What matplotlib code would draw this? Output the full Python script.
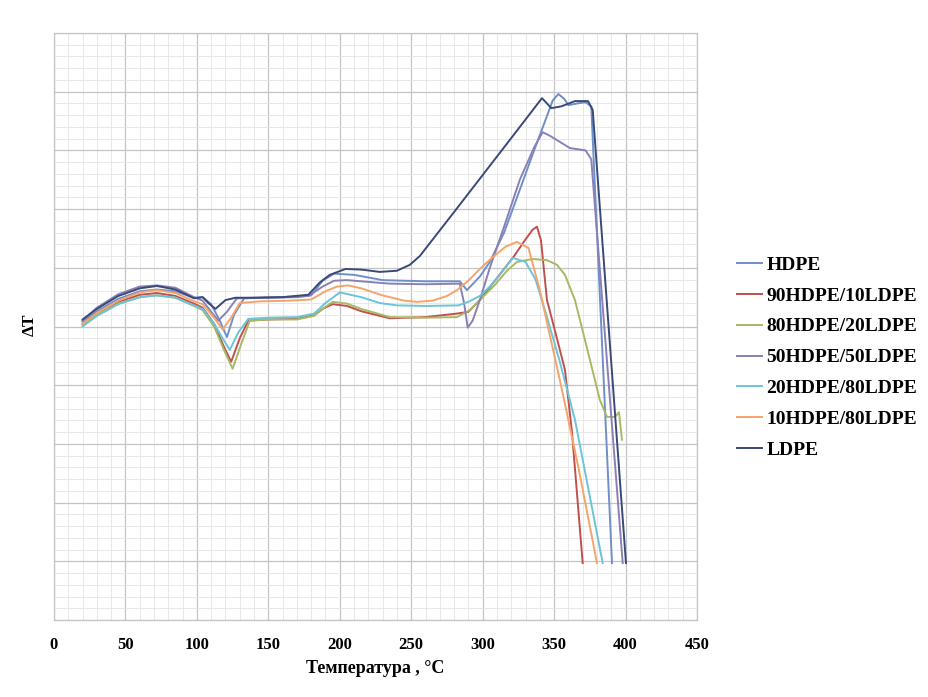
import numpy as np
import matplotlib
matplotlib.use("Agg")
import matplotlib.pyplot as plt
from matplotlib.ticker import MultipleLocator

# DTA curves (x in degC, y in arbitrary dT units)
hdpe_x = [20, 30, 45, 60, 72, 85, 98, 104, 110, 116, 121, 126, 133, 150, 170, 180, 188, 196, 210, 230,
          260, 284, 289, 298, 305, 315, 326, 336, 344, 349, 353, 357, 360, 366, 372, 376, 390.5]
hdpe_y = [0.8, 2.6, 4.7, 6.0, 6.3, 6.0, 4.9, 5.0, 3.8, 1.0, -1.8, 2.0, 4.8, 4.9, 5.0, 5.3, 7.8, 9.0, 8.8, 7.9,
          7.7, 7.7, 6.2, 8.5, 11.0, 16.0, 23.3, 30.0, 35.2, 38.5, 39.6, 38.8, 37.7, 38.0, 38.2, 37.5, -40.3]

r90_x = [20, 30, 45, 60, 72, 85, 98, 104, 112, 119, 124, 130, 136, 150, 170, 182, 188, 195, 205, 215,
         235, 260, 282, 290, 298, 306, 314, 322, 329.6, 335, 338, 340.8, 345, 351, 357.6, 362.5, 370]
r90_y = [0.4, 2.2, 4.2, 5.4, 5.7, 5.2, 3.9, 3.2, 0.5, -3.5, -6.0, -2.0, 1.0, 1.2, 1.3, 1.9, 3.0, 3.8, 3.5, 2.6,
         1.4, 1.6, 2.2, 2.5, 4.5, 7.0, 9.5, 12.0, 14.7, 16.5, 17.0, 14.7, 4.5, -1.1, -7.4, -18.0, -40.3]

r80_x = [20, 30, 45, 60, 72, 85, 98, 104, 112, 119, 125, 131, 137, 150, 170, 182, 188, 195, 205, 215,
         235, 260, 282, 291, 300, 308.6, 317, 324, 335, 345, 352, 357.6, 364.6, 371.6, 382, 387, 392.6,
         395.4, 397.5]
r80_y = [0.3, 2.0, 3.9, 5.0, 5.3, 4.9, 3.5, 2.8, 0.0, -4.0, -7.2, -3.0, 1.0, 1.2, 1.2, 1.8, 3.0, 4.2, 3.9, 3.0,
         1.6, 1.5, 1.6, 2.8, 5.0, 7.1, 9.5, 11.0, 11.5, 11.3, 10.5, 8.8, 4.5, -2.3, -12.5, -15.4, -15.4,
         -14.6, -19.3]

r50_x = [20, 30, 45, 60, 72, 85, 98, 104, 110, 115, 121, 128, 140, 160, 178, 188, 196, 205, 220, 235,
         260, 284, 287, 289.5, 293, 298, 305, 315, 326, 336, 342, 347, 353, 361, 372, 376, 398]
r50_y = [1.0, 3.2, 5.5, 6.8, 7.0, 6.6, 5.0, 4.4, 2.5, 1.0, 2.5, 4.8, 4.9, 5.0, 5.2, 6.8, 7.8, 7.9, 7.6, 7.3,
         7.2, 7.3, 4.0, -0.2, 1.0, 4.5, 10.0, 17.0, 25.0, 30.5, 33.1, 32.5, 31.6, 30.4, 30.0, 28.5, -40.3]

r20_x = [20, 30, 45, 60, 72, 85, 98, 104, 112, 118, 123, 129, 136, 150, 170, 182, 190, 200, 215, 228,
         240, 260, 283, 290, 298, 305, 312, 321, 330, 337, 343.6, 354, 364.6, 384]
r20_y = [0.0, 1.8, 3.8, 5.0, 5.3, 4.9, 3.6, 3.0, 0.5, -2.0, -4.0, -1.0, 1.3, 1.5, 1.6, 2.2, 4.0, 5.8, 5.0, 4.0,
         3.6, 3.5, 3.6, 4.2, 5.2, 6.8, 8.8, 11.7, 11.0, 8.0, 2.8, -6.0, -15.9, -40.3]

r10_x = [20, 30, 45, 60, 72, 85, 98, 104, 112, 118, 124, 130, 145, 165, 180, 190, 198, 206, 215, 230,
         245, 254, 265, 275, 282, 290, 298, 307, 316, 324, 332, 340, 347, 354, 367, 380]
r10_y = [0.5, 2.3, 4.4, 5.8, 6.2, 5.7, 4.3, 3.8, 1.5, -0.5, 1.5, 4.0, 4.3, 4.4, 4.6, 6.0, 6.8, 7.0, 6.5, 5.3,
         4.4, 4.2, 4.4, 5.2, 6.2, 7.8, 9.8, 11.8, 13.6, 14.4, 13.4, 6.2, -1.5, -9.1, -24.0, -40.3]

ldpe_x = [20, 30, 45, 60, 72, 85, 98, 104, 108, 113, 120, 127, 140, 160, 178, 186, 193, 204, 215, 228,
          240, 249, 256, 280, 300, 320, 341.5, 345, 348, 355, 364.6, 373.7, 377, 400.3]
ldpe_y = [1.2, 3.0, 5.2, 6.5, 6.9, 6.3, 4.8, 5.0, 4.0, 3.0, 4.5, 4.9, 4.9, 5.0, 5.4, 7.5, 8.8, 9.8, 9.7, 9.3,
          9.5, 10.5, 12.0, 19.5, 25.8, 32.1, 38.9, 38.0, 37.2, 37.5, 38.4, 38.4, 36.9, -40.3]

labels = ["HDPE", "90HDPE/10LDPE", "80HDPE/20LDPE", "50HDPE/50LDPE",
          "20HDPE/80LDPE", "10HDPE/80LDPE", "LDPE"]
colors = ["#6F8FC8", "#C0504D", "#A8B865", "#8A80B8", "#6CC4D8", "#F5A46A", "#3A4A78"]
series = [(hdpe_x, hdpe_y), (r90_x, r90_y), (r80_x, r80_y), (r50_x, r50_y),
          (r20_x, r20_y), (r10_x, r10_y), (ldpe_x, ldpe_y)]

plt.rcParams['font.family'] = ['Liberation Serif', 'DejaVu Serif']

fig = plt.figure(figsize=(9.29, 6.97), dpi=100)
ax = fig.add_axes([54 / 929, 77 / 697, 643 / 929, 587 / 697])

for (xs, ys), lab, col in zip(series, labels, colors):
    ax.plot(xs, ys, color=col, lw=1.4, label=lab, solid_joinstyle='round')

ax.set_xlim(0, 450)
ax.set_ylim(-50, 50)
ax.xaxis.set_major_locator(MultipleLocator(50))
ax.xaxis.set_minor_locator(MultipleLocator(10))
ax.yaxis.set_major_locator(MultipleLocator(10))
ax.yaxis.set_minor_locator(MultipleLocator(2))
ax.set_yticklabels([])
ax.tick_params(which='both', length=0)
ax.tick_params(axis='x', pad=12, labelsize=12)
for lab in ax.get_xticklabels():
    lab.set_fontweight('bold')

ax.grid(which='major', color='#c4c4c4', lw=0.9)
ax.grid(which='minor', color='#e4e4e4', lw=0.6)
ax.set_axisbelow(True)
for sp in ax.spines.values():
    sp.set_color('#c4c4c4')
    sp.set_linewidth(0.9)

ax.set_xlabel("Температура , °C", fontsize=13, fontweight='bold', labelpad=5)
fig.text(30 / 929, 1 - 325 / 697, "ΔT", rotation=90, ha='center', va='center',
         fontsize=12.5, fontweight='bold')

fig.legend(loc='center left', bbox_to_anchor=(737 / 929, 1 - 357.5 / 697), frameon=False,
           prop={'weight': 'bold', 'size': 14}, handlelength=1.3, handletextpad=0.2,
           labelspacing=0.68, borderpad=0, borderaxespad=0)

fig.savefig("out.png", dpi=100)
